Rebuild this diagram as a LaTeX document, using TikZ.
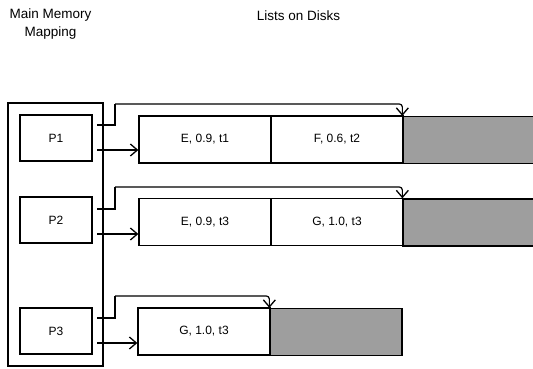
\documentclass[tikz,border=0pt]{standalone}
\usepackage{fontspec}
\setmainfont{Liberation Sans}
\usetikzlibrary{arrows.meta}
\begin{document}
\begin{tikzpicture}[x=1pt,y=-1pt,
  box/.style={draw,line width=1.3pt,inner sep=0pt,font=\fontsize{12}{14}\selectfont},
  pbox/.style={box,minimum width=72,minimum height=46},
  lbox/.style={box,minimum width=132,minimum height=47},
  gbox/.style={draw,line width=1.3pt,fill=black!38,minimum height=47,inner sep=0pt},
  conn/.style={line width=1.2pt},
  arr/.style={line width=1.2pt,-{Straight Barb[length=7pt,width=12pt,line width=1.3pt]}},
  head/.style={font=\fontsize{13.5}{18}\selectfont,align=center}]
\useasboundingbox (0,0) rectangle (533,369);
\node[head] (hmm) at (50.5,24) {Main Memory\\Mapping};
\node[head] (hl) at (298.5,16) {Lists on Disks};
% outer box
\node[draw,line width=1.2pt,minimum width=95,minimum height=263,inner sep=0pt] (mm) at (55.5,234.5) {};
\node[pbox] (P1) at (56,138) {P1};
\node[pbox] (P2) at (56,220) {P2};
\node[pbox] (P3) at (56,331) {P3};
% row 1
\node[lbox] (E1) at (205,139.5) {E, 0.9, t1};
\node[lbox] (F1) at (337,139.5) {F, 0.6, t2};
\node[gbox,minimum width=140] (S1) at (473,140) {};
% row 2
\node[lbox] (E2) at (205,222) {E, 0.9, t3};
\node[lbox] (G2) at (337,222) {G, 1.0, t3};
\node[gbox,minimum width=140] (S2) at (473,222.5) {};
% row 3
\node[lbox] (G3) at (204,331.5) {G, 1.0, t3};
\node[gbox,minimum width=132] (S3) at (336,332) {};
% connectors
\draw[conn] (97,125) -- (115,125) -- (115,104);
\draw[arr,rounded corners=3pt] (115,104) -- (S1.north west |- 0,104) -- (S1.north west);
\draw[arr] (97,150) -- (E1.west |- 0,150);
\draw[conn] (97,209) -- (115,209) -- (115,187);
\draw[arr,rounded corners=3pt] (115,187) -- (S2.north west |- 0,187) -- (S2.north west);
\draw[arr] (97,234) -- (E2.west |- 0,234);
\draw[conn] (97,318) -- (115,318) -- (115,296);
\draw[arr,rounded corners=3pt] (115,296) -- (S3.north west |- 0,296) -- (S3.north west);
\draw[arr] (97,343) -- (G3.west |- 0,343);
\end{tikzpicture}
\end{document}
